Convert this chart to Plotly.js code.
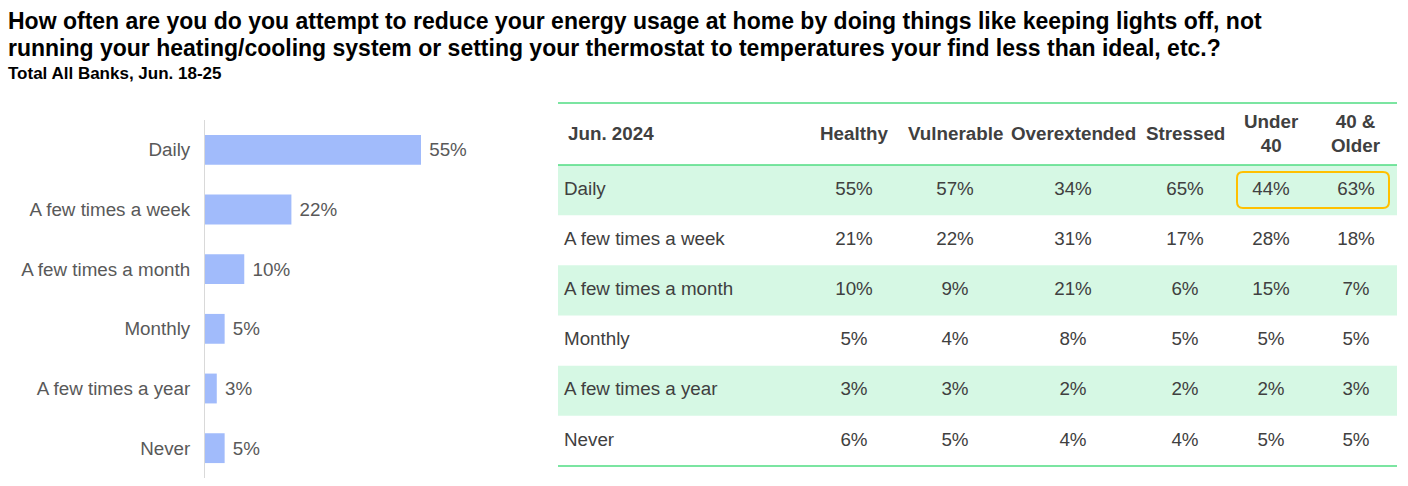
<!DOCTYPE html>
<html>
<head>
<meta charset="utf-8">
<script src="https://cdn.plot.ly/plotly-3.0.1.min.js"></script>
<style>html,body{margin:0;padding:0;background:#fff;}#chart{width:1408px;height:486px;}</style>
</head>
<body>
<div id="chart"></div>
<script>
// ---- data ----
var categories = ['Daily', 'A few times a week', 'A few times a month', 'Monthly', 'A few times a year', 'Never'];
var totalAllBanks = [55, 22, 10, 5, 3, 5];

var columnHeaders = ['Healthy', 'Vulnerable', 'Overextended', 'Stressed', 'Under<br>40', '40 &<br>Older'];
var healthy      = [55, 21, 10, 5, 3, 6];
var vulnerable   = [57, 22, 9, 4, 3, 5];
var overextended = [34, 31, 21, 8, 2, 4];
var stressed     = [65, 17, 6, 5, 2, 4];
var under40      = [44, 28, 15, 5, 2, 5];
var older40      = [63, 18, 7, 5, 3, 5];
var tableColumns = [healthy, vulnerable, overextended, stressed, under40, older40];

var titleLine1 = 'How often are you do you attempt to reduce your energy usage at home by doing things like keeping lights off, not';
var titleLine2 = 'running your heating/cooling system or setting your thermostat to temperatures your find less than ideal, etc.?';
var subtitle = 'Total All Banks, Jun. 18-25';
var tableCorner = 'Jun. 2024';

// ---- layout constants ----
var W = 1408, H = 486;
var FONT = 'Liberation Sans, Arial, sans-serif';
function py(p) { return (H - p) / H; }
var colX = [854, 955, 1073, 1185, 1271, 1356];
var tblLeft = 558, tblRight = 1397;
var greenLine = '#4fdc82';
var rowFill = '#d6f8e4';
var textDark = '#404040';
var BODY = 18.8;

var traces = [];

// left bar chart
traces.push({
  type: 'bar', orientation: 'h',
  x: totalAllBanks, y: categories,
  xaxis: 'x', yaxis: 'y',
  width: 0.5,
  marker: { color: '#a1bbfb' },
  texttemplate: '\u00a0%{x}%',
  textposition: 'outside',
  textfont: { family: FONT, size: BODY, color: '#595959' },
  cliponaxis: false,
  hoverinfo: 'skip'
});

// table row labels
traces.push({
  type: 'scatter', mode: 'text',
  x: categories.map(function () { return 564; }),
  y: categories,
  text: categories,
  textposition: 'middle right',
  textfont: { family: FONT, size: BODY, color: textDark },
  xaxis: 'x2', yaxis: 'y2',
  hoverinfo: 'skip', cliponaxis: false
});

// table value columns
tableColumns.forEach(function (col, j) {
  traces.push({
    type: 'scatter', mode: 'text',
    x: col.map(function () { return colX[j]; }),
    y: categories,
    text: col.map(function (v) { return v + '%'; }),
    textposition: 'middle center',
    textfont: { family: FONT, size: BODY, color: textDark },
    xaxis: 'x2', yaxis: 'y2',
    hoverinfo: 'skip', cliponaxis: false
  });
});

var shapes = [];
// alternating row fills
categories.forEach(function (c, i) {
  if (i % 2 === 0) {
    shapes.push({ type: 'rect', layer: 'below', xref: 'x2', yref: 'y2',
      x0: tblLeft, x1: tblRight, y0: i - 0.5, y1: i + 0.5,
      fillcolor: rowFill, line: { width: 0 } });
  }
});
// green rules
[103, 165, 466].forEach(function (p) {
  shapes.push({ type: 'line', xref: 'x2', yref: 'paper',
    x0: tblLeft, x1: tblRight, y0: py(p), y1: py(p),
    line: { color: greenLine, width: 1.5 } });
});
// rounded highlight box
(function () {
  var x0 = 1237, x1 = 1389, r = 6;
  var t = py(172), b = py(208), ry = r / H;
  var path = 'M ' + (x0 + r) + ',' + t +
    ' L ' + (x1 - r) + ',' + t +
    ' Q ' + x1 + ',' + t + ' ' + x1 + ',' + (t - ry) +
    ' L ' + x1 + ',' + (b + ry) +
    ' Q ' + x1 + ',' + b + ' ' + (x1 - r) + ',' + b +
    ' L ' + (x0 + r) + ',' + b +
    ' Q ' + x0 + ',' + b + ' ' + x0 + ',' + (b + ry) +
    ' L ' + x0 + ',' + (t - ry) +
    ' Q ' + x0 + ',' + t + ' ' + (x0 + r) + ',' + t + ' Z';
  shapes.push({ type: 'path', xref: 'x2', yref: 'paper', path: path,
    line: { color: '#ffc000', width: 2 } });
})();

var annotations = [];
annotations.push({ text: '<b>' + titleLine1 + '</b>', xref: 'paper', yref: 'paper',
  x: 6 / W, y: py(21), xanchor: 'left', yanchor: 'middle', showarrow: false,
  font: { family: FONT, size: 23, color: '#000' } });
annotations.push({ text: '<b>' + titleLine2 + '</b>', xref: 'paper', yref: 'paper',
  x: 6 / W, y: py(48), xanchor: 'left', yanchor: 'middle', showarrow: false,
  font: { family: FONT, size: 23, color: '#000' } });
annotations.push({ text: '<b>' + subtitle + '</b>', xref: 'paper', yref: 'paper',
  x: 6 / W, y: py(74), xanchor: 'left', yanchor: 'middle', showarrow: false,
  font: { family: FONT, size: 17, color: '#000' } });
annotations.push({ text: '<b>' + tableCorner + '</b>', xref: 'x2', yref: 'paper',
  x: 566, y: py(134), xanchor: 'left', yanchor: 'middle', showarrow: false,
  font: { family: FONT, size: BODY, color: textDark } });
columnHeaders.forEach(function (h, j) {
  annotations.push({ text: '<b>' + h + '</b>', xref: 'x2', yref: 'paper',
    x: colX[j], y: py(134), xanchor: 'center', yanchor: 'middle', showarrow: false,
    font: { family: FONT, size: BODY, color: textDark } });
});

var layout = {
  width: W, height: H,
  margin: { l: 0, r: 0, t: 0, b: 0 },
  paper_bgcolor: '#fff', plot_bgcolor: 'rgba(0,0,0,0)',
  showlegend: false,
  font: { family: FONT, color: textDark },
  xaxis: { domain: [205 / W, 545 / W], range: [0, 340 / (216 / 55)], visible: false, fixedrange: true },
  yaxis: { domain: [py(478), py(120)], type: 'category', categoryarray: categories,
    autorange: 'reversed', showline: true, linecolor: '#d9d9d9', linewidth: 1,
    showgrid: false, zeroline: false, ticks: '', ticklabelstandoff: 10,
    tickfont: { family: FONT, size: BODY, color: '#595959' }, fixedrange: true },
  xaxis2: { domain: [tblLeft / W, tblRight / W], range: [tblLeft, tblRight], visible: false, fixedrange: true, anchor: 'y2' },
  yaxis2: { domain: [py(466), py(165)], type: 'category', categoryarray: categories,
    range: [5.5, -0.5], visible: false, fixedrange: true, anchor: 'x2' },
  shapes: shapes,
  annotations: annotations
};

Plotly.newPlot('chart', traces, layout, { displayModeBar: false, staticPlot: true });
</script>
</body>
</html>
